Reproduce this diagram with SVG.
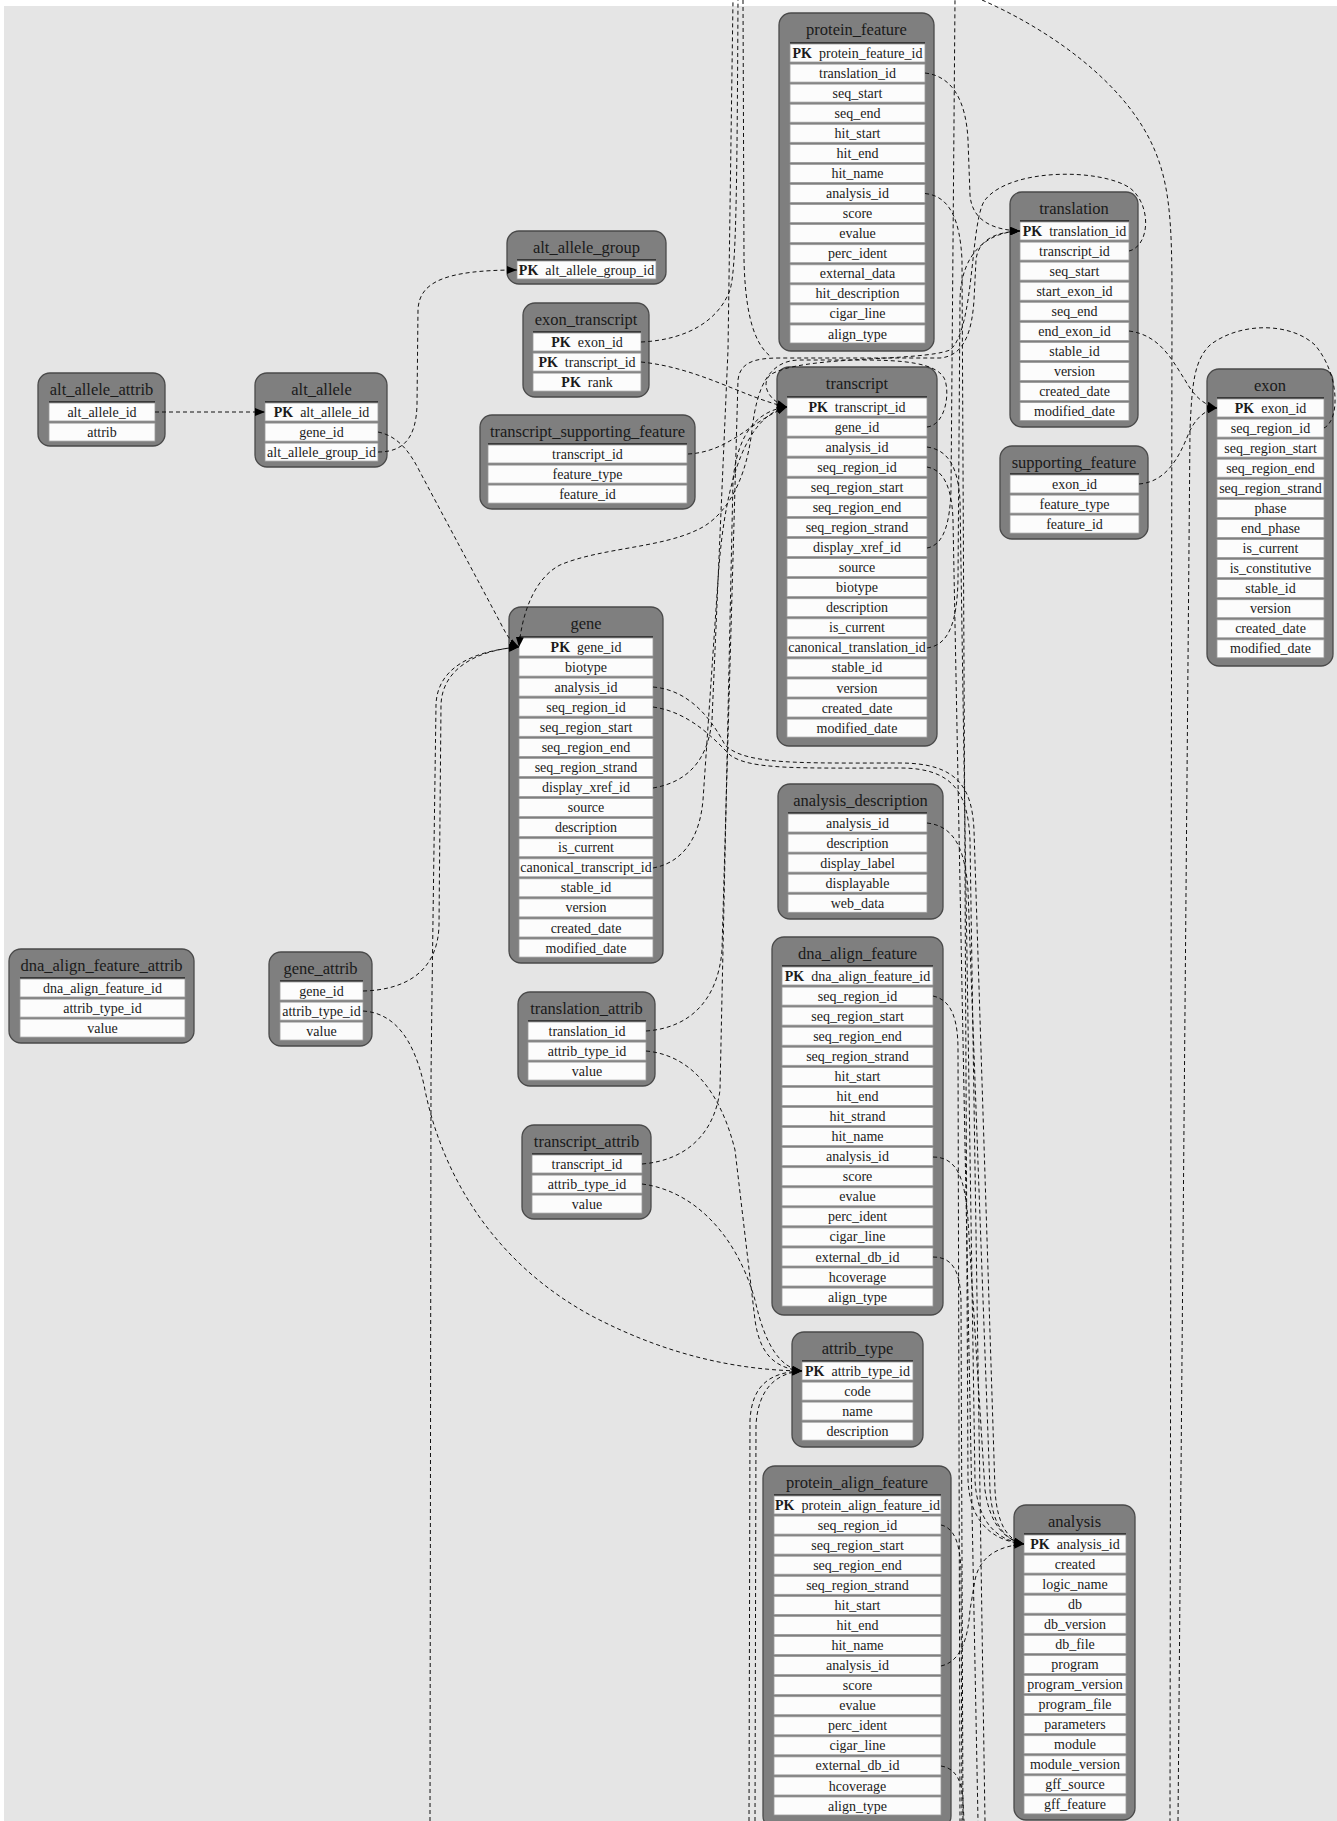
<svg xmlns="http://www.w3.org/2000/svg" width="1337" height="1821" viewBox="0 0 1337 1821">
<defs>
<style>
.n{fill:#7f7f7f;stroke:#4a4a4a;stroke-width:1.3}
.c{fill:#fcfcfc;stroke:#9a9a9a;stroke-width:0.8}
.h{stroke:#222;stroke-width:1.6}
.t{font-family:"Liberation Serif",serif;font-size:16.5px;fill:#1a1a1a;text-anchor:middle}
.r{font-family:"Liberation Serif",serif;font-size:14px;fill:#1a1a1a;text-anchor:middle}
.pk{font-weight:bold}
.e{fill:none;stroke:#111;stroke-width:1;stroke-dasharray:4 3}
.ea{fill:none;stroke:#111;stroke-width:1;stroke-dasharray:4 3;marker-end:url(#a)}
</style>
<marker id="a" viewBox="0 0 10 8" refX="10" refY="4" markerWidth="10" markerHeight="8" markerUnits="userSpaceOnUse" orient="auto"><path d="M0,0 L10,4 L0,8 z" fill="#000"/></marker>
</defs>
<rect x="0" y="0" width="1337" height="1821" fill="#ffffff"/>
<rect x="4" y="6" width="1333" height="1815" fill="#e5e5e5"/>

<g id="alt_allele_attrib">
<rect class="n" x="38" y="373" width="127" height="73" rx="12"/>
<text class="t" x="101.5" y="394.5">alt_allele_attrib</text>
<line class="h" x1="49" y1="402" x2="155" y2="402"/>
<rect class="c" x="49" y="403" width="106" height="18"/><text class="r" x="102" y="416.5">alt_allele_id</text>
<rect class="c" x="49" y="423.1" width="106" height="18"/><text class="r" x="102" y="436.6">attrib</text>
</g>

<g id="alt_allele">
<rect class="n" x="255" y="373" width="132" height="94" rx="12"/>
<text class="t" x="321.5" y="394.5">alt_allele</text>
<line class="h" x1="265" y1="402" x2="378" y2="402"/>
<rect class="c" x="265" y="403" width="113" height="18"/><text class="r" x="321.5" y="416.5"><tspan class="pk">PK</tspan><tspan dx="7">alt_allele_id</tspan></text>
<rect class="c" x="265" y="423.1" width="113" height="18"/><text class="r" x="321.5" y="436.6">gene_id</text>
<rect class="c" x="265" y="443.1" width="113" height="18"/><text class="r" x="321.5" y="456.6">alt_allele_group_id</text>
</g>

<g id="alt_allele_group">
<rect class="n" x="507" y="231" width="159" height="53" rx="12"/>
<text class="t" x="586.5" y="252.5">alt_allele_group</text>
<line class="h" x1="517" y1="260" x2="656" y2="260"/>
<rect class="c" x="517" y="261" width="139" height="18"/><text class="r" x="586.5" y="274.5"><tspan class="pk">PK</tspan><tspan dx="7">alt_allele_group_id</tspan></text>
</g>

<g id="exon_transcript">
<rect class="n" x="523" y="303" width="126" height="94" rx="12"/>
<text class="t" x="586" y="324.5">exon_transcript</text>
<line class="h" x1="533" y1="332" x2="641" y2="332"/>
<rect class="c" x="533" y="333" width="108" height="18"/><text class="r" x="587" y="346.5"><tspan class="pk">PK</tspan><tspan dx="7">exon_id</tspan></text>
<rect class="c" x="533" y="353.1" width="108" height="18"/><text class="r" x="587" y="366.6"><tspan class="pk">PK</tspan><tspan dx="7">transcript_id</tspan></text>
<rect class="c" x="533" y="373.1" width="108" height="18"/><text class="r" x="587" y="386.6"><tspan class="pk">PK</tspan><tspan dx="7">rank</tspan></text>
</g>

<g id="transcript_supporting_feature">
<rect class="n" x="480" y="415" width="215" height="94" rx="12"/>
<text class="t" x="587.5" y="436.5">transcript_supporting_feature</text>
<line class="h" x1="488" y1="444" x2="687" y2="444"/>
<rect class="c" x="488" y="445" width="199" height="18"/><text class="r" x="587.5" y="458.5">transcript_id</text>
<rect class="c" x="488" y="465.1" width="199" height="18"/><text class="r" x="587.5" y="478.6">feature_type</text>
<rect class="c" x="488" y="485.1" width="199" height="18"/><text class="r" x="587.5" y="498.6">feature_id</text>
</g>

<g id="protein_feature">
<rect class="n" x="779" y="13" width="155" height="338" rx="12"/>
<text class="t" x="856.5" y="34.5">protein_feature</text>
<line class="h" x1="790" y1="43" x2="925" y2="43"/>
<rect class="c" x="790" y="44" width="135" height="18"/><text class="r" x="857.5" y="57.5"><tspan class="pk">PK</tspan><tspan dx="7">protein_feature_id</tspan></text>
<rect class="c" x="790" y="64.1" width="135" height="18"/><text class="r" x="857.5" y="77.6">translation_id</text>
<rect class="c" x="790" y="84.1" width="135" height="18"/><text class="r" x="857.5" y="97.6">seq_start</text>
<rect class="c" x="790" y="104.2" width="135" height="18"/><text class="r" x="857.5" y="117.7">seq_end</text>
<rect class="c" x="790" y="124.3" width="135" height="18"/><text class="r" x="857.5" y="137.8">hit_start</text>
<rect class="c" x="790" y="144.4" width="135" height="18"/><text class="r" x="857.5" y="157.9">hit_end</text>
<rect class="c" x="790" y="164.4" width="135" height="18"/><text class="r" x="857.5" y="177.9">hit_name</text>
<rect class="c" x="790" y="184.5" width="135" height="18"/><text class="r" x="857.5" y="198">analysis_id</text>
<rect class="c" x="790" y="204.6" width="135" height="18"/><text class="r" x="857.5" y="218.1">score</text>
<rect class="c" x="790" y="224.6" width="135" height="18"/><text class="r" x="857.5" y="238.1">evalue</text>
<rect class="c" x="790" y="244.7" width="135" height="18"/><text class="r" x="857.5" y="258.2">perc_ident</text>
<rect class="c" x="790" y="264.8" width="135" height="18"/><text class="r" x="857.5" y="278.3">external_data</text>
<rect class="c" x="790" y="284.8" width="135" height="18"/><text class="r" x="857.5" y="298.3">hit_description</text>
<rect class="c" x="790" y="304.9" width="135" height="18"/><text class="r" x="857.5" y="318.4">cigar_line</text>
<rect class="c" x="790" y="325" width="135" height="18"/><text class="r" x="857.5" y="338.5">align_type</text>
</g>

<g id="translation">
<rect class="n" x="1010" y="192" width="128" height="235" rx="12"/>
<text class="t" x="1074" y="213.5">translation</text>
<line class="h" x1="1020" y1="221" x2="1129" y2="221"/>
<rect class="c" x="1020" y="222" width="109" height="18"/><text class="r" x="1074.5" y="235.5"><tspan class="pk">PK</tspan><tspan dx="7">translation_id</tspan></text>
<rect class="c" x="1020" y="242.1" width="109" height="18"/><text class="r" x="1074.5" y="255.6">transcript_id</text>
<rect class="c" x="1020" y="262.1" width="109" height="18"/><text class="r" x="1074.5" y="275.6">seq_start</text>
<rect class="c" x="1020" y="282.2" width="109" height="18"/><text class="r" x="1074.5" y="295.7">start_exon_id</text>
<rect class="c" x="1020" y="302.3" width="109" height="18"/><text class="r" x="1074.5" y="315.8">seq_end</text>
<rect class="c" x="1020" y="322.4" width="109" height="18"/><text class="r" x="1074.5" y="335.9">end_exon_id</text>
<rect class="c" x="1020" y="342.4" width="109" height="18"/><text class="r" x="1074.5" y="355.9">stable_id</text>
<rect class="c" x="1020" y="362.5" width="109" height="18"/><text class="r" x="1074.5" y="376">version</text>
<rect class="c" x="1020" y="382.6" width="109" height="18"/><text class="r" x="1074.5" y="396.1">created_date</text>
<rect class="c" x="1020" y="402.6" width="109" height="18"/><text class="r" x="1074.5" y="416.1">modified_date</text>
</g>

<g id="supporting_feature">
<rect class="n" x="1000" y="446" width="148" height="93" rx="12"/>
<text class="t" x="1074" y="467.5">supporting_feature</text>
<line class="h" x1="1010" y1="474" x2="1139" y2="474"/>
<rect class="c" x="1010" y="475" width="129" height="18"/><text class="r" x="1074.5" y="488.5">exon_id</text>
<rect class="c" x="1010" y="495.1" width="129" height="18"/><text class="r" x="1074.5" y="508.6">feature_type</text>
<rect class="c" x="1010" y="515.1" width="129" height="18"/><text class="r" x="1074.5" y="528.6">feature_id</text>
</g>

<g id="exon">
<rect class="n" x="1207" y="369" width="126" height="297" rx="12"/>
<text class="t" x="1270" y="390.5">exon</text>
<line class="h" x1="1217" y1="398" x2="1324" y2="398"/>
<rect class="c" x="1217" y="399" width="107" height="18"/><text class="r" x="1270.5" y="412.5"><tspan class="pk">PK</tspan><tspan dx="7">exon_id</tspan></text>
<rect class="c" x="1217" y="419.1" width="107" height="18"/><text class="r" x="1270.5" y="432.6">seq_region_id</text>
<rect class="c" x="1217" y="439.1" width="107" height="18"/><text class="r" x="1270.5" y="452.6">seq_region_start</text>
<rect class="c" x="1217" y="459.2" width="107" height="18"/><text class="r" x="1270.5" y="472.7">seq_region_end</text>
<rect class="c" x="1217" y="479.3" width="107" height="18"/><text class="r" x="1270.5" y="492.8">seq_region_strand</text>
<rect class="c" x="1217" y="499.4" width="107" height="18"/><text class="r" x="1270.5" y="512.9">phase</text>
<rect class="c" x="1217" y="519.4" width="107" height="18"/><text class="r" x="1270.5" y="532.9">end_phase</text>
<rect class="c" x="1217" y="539.5" width="107" height="18"/><text class="r" x="1270.5" y="553">is_current</text>
<rect class="c" x="1217" y="559.6" width="107" height="18"/><text class="r" x="1270.5" y="573.1">is_constitutive</text>
<rect class="c" x="1217" y="579.6" width="107" height="18"/><text class="r" x="1270.5" y="593.1">stable_id</text>
<rect class="c" x="1217" y="599.7" width="107" height="18"/><text class="r" x="1270.5" y="613.2">version</text>
<rect class="c" x="1217" y="619.8" width="107" height="18"/><text class="r" x="1270.5" y="633.3">created_date</text>
<rect class="c" x="1217" y="639.8" width="107" height="18"/><text class="r" x="1270.5" y="653.3">modified_date</text>
</g>

<g id="transcript">
<rect class="n" x="777" y="367" width="160" height="379" rx="12"/>
<text class="t" x="857" y="388.5">transcript</text>
<line class="h" x1="787" y1="397" x2="927" y2="397"/>
<rect class="c" x="787" y="398" width="140" height="18"/><text class="r" x="857" y="411.5"><tspan class="pk">PK</tspan><tspan dx="7">transcript_id</tspan></text>
<rect class="c" x="787" y="418.1" width="140" height="18"/><text class="r" x="857" y="431.6">gene_id</text>
<rect class="c" x="787" y="438.1" width="140" height="18"/><text class="r" x="857" y="451.6">analysis_id</text>
<rect class="c" x="787" y="458.2" width="140" height="18"/><text class="r" x="857" y="471.7">seq_region_id</text>
<rect class="c" x="787" y="478.3" width="140" height="18"/><text class="r" x="857" y="491.8">seq_region_start</text>
<rect class="c" x="787" y="498.4" width="140" height="18"/><text class="r" x="857" y="511.9">seq_region_end</text>
<rect class="c" x="787" y="518.4" width="140" height="18"/><text class="r" x="857" y="531.9">seq_region_strand</text>
<rect class="c" x="787" y="538.5" width="140" height="18"/><text class="r" x="857" y="552">display_xref_id</text>
<rect class="c" x="787" y="558.6" width="140" height="18"/><text class="r" x="857" y="572.1">source</text>
<rect class="c" x="787" y="578.6" width="140" height="18"/><text class="r" x="857" y="592.1">biotype</text>
<rect class="c" x="787" y="598.7" width="140" height="18"/><text class="r" x="857" y="612.2">description</text>
<rect class="c" x="787" y="618.8" width="140" height="18"/><text class="r" x="857" y="632.3">is_current</text>
<rect class="c" x="787" y="638.8" width="140" height="18"/><text class="r" x="857" y="652.3">canonical_translation_id</text>
<rect class="c" x="787" y="658.9" width="140" height="18"/><text class="r" x="857" y="672.4">stable_id</text>
<rect class="c" x="787" y="679" width="140" height="18"/><text class="r" x="857" y="692.5">version</text>
<rect class="c" x="787" y="699" width="140" height="18"/><text class="r" x="857" y="712.5">created_date</text>
<rect class="c" x="787" y="719.1" width="140" height="18"/><text class="r" x="857" y="732.6">modified_date</text>
</g>

<g id="gene">
<rect class="n" x="509" y="607" width="154" height="356" rx="12"/>
<text class="t" x="586" y="628.5">gene</text>
<line class="h" x1="519" y1="637" x2="653" y2="637"/>
<rect class="c" x="519" y="638" width="134" height="18"/><text class="r" x="586" y="651.5"><tspan class="pk">PK</tspan><tspan dx="7">gene_id</tspan></text>
<rect class="c" x="519" y="658.1" width="134" height="18"/><text class="r" x="586" y="671.6">biotype</text>
<rect class="c" x="519" y="678.1" width="134" height="18"/><text class="r" x="586" y="691.6">analysis_id</text>
<rect class="c" x="519" y="698.2" width="134" height="18"/><text class="r" x="586" y="711.7">seq_region_id</text>
<rect class="c" x="519" y="718.3" width="134" height="18"/><text class="r" x="586" y="731.8">seq_region_start</text>
<rect class="c" x="519" y="738.4" width="134" height="18"/><text class="r" x="586" y="751.9">seq_region_end</text>
<rect class="c" x="519" y="758.4" width="134" height="18"/><text class="r" x="586" y="771.9">seq_region_strand</text>
<rect class="c" x="519" y="778.5" width="134" height="18"/><text class="r" x="586" y="792">display_xref_id</text>
<rect class="c" x="519" y="798.6" width="134" height="18"/><text class="r" x="586" y="812.1">source</text>
<rect class="c" x="519" y="818.6" width="134" height="18"/><text class="r" x="586" y="832.1">description</text>
<rect class="c" x="519" y="838.7" width="134" height="18"/><text class="r" x="586" y="852.2">is_current</text>
<rect class="c" x="519" y="858.8" width="134" height="18"/><text class="r" x="586" y="872.3">canonical_transcript_id</text>
<rect class="c" x="519" y="878.8" width="134" height="18"/><text class="r" x="586" y="892.3">stable_id</text>
<rect class="c" x="519" y="898.9" width="134" height="18"/><text class="r" x="586" y="912.4">version</text>
<rect class="c" x="519" y="919" width="134" height="18"/><text class="r" x="586" y="932.5">created_date</text>
<rect class="c" x="519" y="939.1" width="134" height="18"/><text class="r" x="586" y="952.6">modified_date</text>
</g>

<g id="dna_align_feature_attrib">
<rect class="n" x="9" y="949" width="185" height="94" rx="12"/>
<text class="t" x="101.5" y="970.5">dna_align_feature_attrib</text>
<line class="h" x1="20" y1="978" x2="185" y2="978"/>
<rect class="c" x="20" y="979" width="165" height="18"/><text class="r" x="102.5" y="992.5">dna_align_feature_id</text>
<rect class="c" x="20" y="999.1" width="165" height="18"/><text class="r" x="102.5" y="1012.6">attrib_type_id</text>
<rect class="c" x="20" y="1019.1" width="165" height="18"/><text class="r" x="102.5" y="1032.6">value</text>
</g>

<g id="gene_attrib">
<rect class="n" x="269" y="952" width="103" height="94" rx="12"/>
<text class="t" x="320.5" y="973.5">gene_attrib</text>
<line class="h" x1="280" y1="981" x2="363" y2="981"/>
<rect class="c" x="280" y="982" width="83" height="18"/><text class="r" x="321.5" y="995.5">gene_id</text>
<rect class="c" x="280" y="1002.1" width="83" height="18"/><text class="r" x="321.5" y="1015.6">attrib_type_id</text>
<rect class="c" x="280" y="1022.1" width="83" height="18"/><text class="r" x="321.5" y="1035.6">value</text>
</g>

<g id="translation_attrib">
<rect class="n" x="518" y="992" width="137" height="94" rx="12"/>
<text class="t" x="586.5" y="1013.5">translation_attrib</text>
<line class="h" x1="528" y1="1021" x2="646" y2="1021"/>
<rect class="c" x="528" y="1022" width="118" height="18"/><text class="r" x="587" y="1035.5">translation_id</text>
<rect class="c" x="528" y="1042.1" width="118" height="18"/><text class="r" x="587" y="1055.6">attrib_type_id</text>
<rect class="c" x="528" y="1062.1" width="118" height="18"/><text class="r" x="587" y="1075.6">value</text>
</g>

<g id="transcript_attrib">
<rect class="n" x="522" y="1125" width="129" height="94" rx="12"/>
<text class="t" x="586.5" y="1146.5">transcript_attrib</text>
<line class="h" x1="532" y1="1154" x2="642" y2="1154"/>
<rect class="c" x="532" y="1155" width="110" height="18"/><text class="r" x="587" y="1168.5">transcript_id</text>
<rect class="c" x="532" y="1175.1" width="110" height="18"/><text class="r" x="587" y="1188.6">attrib_type_id</text>
<rect class="c" x="532" y="1195.1" width="110" height="18"/><text class="r" x="587" y="1208.6">value</text>
</g>

<g id="analysis_description">
<rect class="n" x="778" y="784" width="165" height="135" rx="12"/>
<text class="t" x="860.5" y="805.5">analysis_description</text>
<line class="h" x1="788" y1="813" x2="927" y2="813"/>
<rect class="c" x="788" y="814" width="139" height="18"/><text class="r" x="857.5" y="827.5">analysis_id</text>
<rect class="c" x="788" y="834.1" width="139" height="18"/><text class="r" x="857.5" y="847.6">description</text>
<rect class="c" x="788" y="854.1" width="139" height="18"/><text class="r" x="857.5" y="867.6">display_label</text>
<rect class="c" x="788" y="874.2" width="139" height="18"/><text class="r" x="857.5" y="887.7">displayable</text>
<rect class="c" x="788" y="894.3" width="139" height="18"/><text class="r" x="857.5" y="907.8">web_data</text>
</g>

<g id="dna_align_feature">
<rect class="n" x="772" y="937" width="171" height="378" rx="12"/>
<text class="t" x="857.5" y="958.5">dna_align_feature</text>
<line class="h" x1="782" y1="966" x2="933" y2="966"/>
<rect class="c" x="782" y="967" width="151" height="18"/><text class="r" x="857.5" y="980.5"><tspan class="pk">PK</tspan><tspan dx="7">dna_align_feature_id</tspan></text>
<rect class="c" x="782" y="987.1" width="151" height="18"/><text class="r" x="857.5" y="1000.6">seq_region_id</text>
<rect class="c" x="782" y="1007.1" width="151" height="18"/><text class="r" x="857.5" y="1020.6">seq_region_start</text>
<rect class="c" x="782" y="1027.2" width="151" height="18"/><text class="r" x="857.5" y="1040.7">seq_region_end</text>
<rect class="c" x="782" y="1047.3" width="151" height="18"/><text class="r" x="857.5" y="1060.8">seq_region_strand</text>
<rect class="c" x="782" y="1067.4" width="151" height="18"/><text class="r" x="857.5" y="1080.9">hit_start</text>
<rect class="c" x="782" y="1087.4" width="151" height="18"/><text class="r" x="857.5" y="1100.9">hit_end</text>
<rect class="c" x="782" y="1107.5" width="151" height="18"/><text class="r" x="857.5" y="1121">hit_strand</text>
<rect class="c" x="782" y="1127.6" width="151" height="18"/><text class="r" x="857.5" y="1141.1">hit_name</text>
<rect class="c" x="782" y="1147.6" width="151" height="18"/><text class="r" x="857.5" y="1161.1">analysis_id</text>
<rect class="c" x="782" y="1167.7" width="151" height="18"/><text class="r" x="857.5" y="1181.2">score</text>
<rect class="c" x="782" y="1187.8" width="151" height="18"/><text class="r" x="857.5" y="1201.3">evalue</text>
<rect class="c" x="782" y="1207.8" width="151" height="18"/><text class="r" x="857.5" y="1221.3">perc_ident</text>
<rect class="c" x="782" y="1227.9" width="151" height="18"/><text class="r" x="857.5" y="1241.4">cigar_line</text>
<rect class="c" x="782" y="1248" width="151" height="18"/><text class="r" x="857.5" y="1261.5">external_db_id</text>
<rect class="c" x="782" y="1268" width="151" height="18"/><text class="r" x="857.5" y="1281.5">hcoverage</text>
<rect class="c" x="782" y="1288.1" width="151" height="18"/><text class="r" x="857.5" y="1301.6">align_type</text>
</g>

<g id="attrib_type">
<rect class="n" x="792" y="1332" width="131" height="115" rx="12"/>
<text class="t" x="857.5" y="1353.5">attrib_type</text>
<line class="h" x1="802" y1="1361" x2="913" y2="1361"/>
<rect class="c" x="802" y="1362" width="111" height="18"/><text class="r" x="857.5" y="1375.5"><tspan class="pk">PK</tspan><tspan dx="7">attrib_type_id</tspan></text>
<rect class="c" x="802" y="1382.1" width="111" height="18"/><text class="r" x="857.5" y="1395.6">code</text>
<rect class="c" x="802" y="1402.1" width="111" height="18"/><text class="r" x="857.5" y="1415.6">name</text>
<rect class="c" x="802" y="1422.2" width="111" height="18"/><text class="r" x="857.5" y="1435.7">description</text>
</g>

<g id="protein_align_feature">
<rect class="n" x="763" y="1466" width="188" height="362" rx="12"/>
<text class="t" x="857" y="1487.5">protein_align_feature</text>
<line class="h" x1="774" y1="1495" x2="941" y2="1495"/>
<rect class="c" x="774" y="1496" width="167" height="18"/><text class="r" x="857.5" y="1509.5"><tspan class="pk">PK</tspan><tspan dx="7">protein_align_feature_id</tspan></text>
<rect class="c" x="774" y="1516.1" width="167" height="18"/><text class="r" x="857.5" y="1529.6">seq_region_id</text>
<rect class="c" x="774" y="1536.1" width="167" height="18"/><text class="r" x="857.5" y="1549.6">seq_region_start</text>
<rect class="c" x="774" y="1556.2" width="167" height="18"/><text class="r" x="857.5" y="1569.7">seq_region_end</text>
<rect class="c" x="774" y="1576.3" width="167" height="18"/><text class="r" x="857.5" y="1589.8">seq_region_strand</text>
<rect class="c" x="774" y="1596.4" width="167" height="18"/><text class="r" x="857.5" y="1609.9">hit_start</text>
<rect class="c" x="774" y="1616.4" width="167" height="18"/><text class="r" x="857.5" y="1629.9">hit_end</text>
<rect class="c" x="774" y="1636.5" width="167" height="18"/><text class="r" x="857.5" y="1650">hit_name</text>
<rect class="c" x="774" y="1656.6" width="167" height="18"/><text class="r" x="857.5" y="1670.1">analysis_id</text>
<rect class="c" x="774" y="1676.6" width="167" height="18"/><text class="r" x="857.5" y="1690.1">score</text>
<rect class="c" x="774" y="1696.7" width="167" height="18"/><text class="r" x="857.5" y="1710.2">evalue</text>
<rect class="c" x="774" y="1716.8" width="167" height="18"/><text class="r" x="857.5" y="1730.3">perc_ident</text>
<rect class="c" x="774" y="1736.8" width="167" height="18"/><text class="r" x="857.5" y="1750.3">cigar_line</text>
<rect class="c" x="774" y="1756.9" width="167" height="18"/><text class="r" x="857.5" y="1770.4">external_db_id</text>
<rect class="c" x="774" y="1777" width="167" height="18"/><text class="r" x="857.5" y="1790.5">hcoverage</text>
<rect class="c" x="774" y="1797" width="167" height="18"/><text class="r" x="857.5" y="1810.5">align_type</text>
</g>

<g id="analysis">
<rect class="n" x="1014" y="1505" width="121" height="315" rx="12"/>
<text class="t" x="1074.5" y="1526.5">analysis</text>
<line class="h" x1="1024" y1="1534" x2="1126" y2="1534"/>
<rect class="c" x="1024" y="1535" width="102" height="18"/><text class="r" x="1075" y="1548.5"><tspan class="pk">PK</tspan><tspan dx="7">analysis_id</tspan></text>
<rect class="c" x="1024" y="1555.1" width="102" height="18"/><text class="r" x="1075" y="1568.6">created</text>
<rect class="c" x="1024" y="1575.1" width="102" height="18"/><text class="r" x="1075" y="1588.6">logic_name</text>
<rect class="c" x="1024" y="1595.2" width="102" height="18"/><text class="r" x="1075" y="1608.7">db</text>
<rect class="c" x="1024" y="1615.3" width="102" height="18"/><text class="r" x="1075" y="1628.8">db_version</text>
<rect class="c" x="1024" y="1635.4" width="102" height="18"/><text class="r" x="1075" y="1648.9">db_file</text>
<rect class="c" x="1024" y="1655.4" width="102" height="18"/><text class="r" x="1075" y="1668.9">program</text>
<rect class="c" x="1024" y="1675.5" width="102" height="18"/><text class="r" x="1075" y="1689">program_version</text>
<rect class="c" x="1024" y="1695.6" width="102" height="18"/><text class="r" x="1075" y="1709.1">program_file</text>
<rect class="c" x="1024" y="1715.6" width="102" height="18"/><text class="r" x="1075" y="1729.1">parameters</text>
<rect class="c" x="1024" y="1735.7" width="102" height="18"/><text class="r" x="1075" y="1749.2">module</text>
<rect class="c" x="1024" y="1755.8" width="102" height="18"/><text class="r" x="1075" y="1769.3">module_version</text>
<rect class="c" x="1024" y="1775.8" width="102" height="18"/><text class="r" x="1075" y="1789.3">gff_source</text>
<rect class="c" x="1024" y="1795.9" width="102" height="18"/><text class="r" x="1075" y="1809.4">gff_feature</text>
</g>

<g id="connectors">
<path class="ea" d="M155,412 L265,412"/>
<path class="ea" d="M378,452 C402,452 416,440 417,405 L418,310 C419,282 445,270 517,270"/>
<path class="ea" d="M378,432 C398,436 410,452 420,472 L500,622 C506,634 511,643 519,647"/>
<path class="ea" d="M363,991 C405,990 438,972 439,925 L441,705 C442,668 478,650 519,647"/>
<path class="ea" d="M430,1821 L431,1080 C432,980 435,780 436,705 C437,668 472,651 519,647"/>
<path class="ea" d="M363,1011 C395,1013 414,1040 424,1085 C440,1170 490,1260 590,1315 C660,1352 730,1370 802,1371"/>
<path class="ea" d="M641,362 C700,368 745,398 787,407"/>
<path class="ea" d="M688,454 C730,452 752,420 787,407"/>
<path class="e" d="M641,342 C685,340 718,322 730,290 C736,270 737,200 738,0"/>
<path class="e" d="M743,0 L744,260 C745,300 750,340 770,356"/>
<path class="ea" d="M925,73 C952,76 966,100 968,140 L970,195 C972,222 995,230 1020,231"/>
<path class="ea" d="M925,193.5 C950,196 960,220 962,260 L968,1480 C970,1525 995,1541 1024,1544"/>
<path class="ea" d="M1129,251 C1150,246 1152,205 1130,188 C1100,168 1010,168 985,200 C970,220 975,330 950,350 C920,362 800,355 770,375 C760,385 770,402 787,407"/>
<path class="ea" d="M927,648 C950,645 957,620 958,580 L960,300 C961,250 990,232 1020,231"/>
<path class="ea" d="M927,427 C945,425 950,395 945,380 C938,362 900,360 860,360 L800,360 C770,360 757,385 752,430 C745,490 720,520 697,530 C660,548 600,548 560,565 C535,578 522,612 519,647"/>
<path class="ea" d="M927,447 C950,450 958,470 960,500 L975,1480 C977,1520 995,1540 1024,1544"/>
<path class="e" d="M927,467 C945,470 952,490 953,520 L978,1821"/>
<path class="e" d="M927,548 C945,545 950,520 951,490 L955,0"/>
<path class="ea" d="M653,687 C690,690 712,720 725,745 C745,765 800,763 900,763 C960,763 972,790 974,830 L995,1490 C997,1525 1008,1540 1024,1544"/>
<path class="e" d="M653,707 C690,712 715,740 730,755 C750,770 800,768 900,768 C955,768 968,795 970,840 L985,1821"/>
<path class="e" d="M653,788 C688,782 708,760 712,720 L728,350 L733,0"/>
<path class="ea" d="M653,868 C685,862 700,835 703,800 L718,580 C725,470 750,415 787,407"/>
<path class="ea" d="M646,1031 C690,1028 718,1000 722,950 L738,380 C740,362 755,358 780,358 L940,358 C965,356 972,330 974,300 L976,260 C978,240 995,232 1020,231"/>
<path class="ea" d="M646,1051 C690,1055 720,1090 735,1150 L755,1320 C760,1355 775,1368 802,1371"/>
<path class="ea" d="M642,1164 C690,1160 715,1130 720,1090 L733,480 C738,430 760,410 787,407"/>
<path class="ea" d="M642,1184 C690,1190 735,1230 755,1300 C765,1345 780,1368 802,1371"/>
<path class="ea" d="M927,823 C955,826 965,850 968,890 L990,1490 C992,1525 1005,1540 1024,1544"/>
<path class="e" d="M933,996 C952,1000 958,1020 958,1050 L960,1821"/>
<path class="ea" d="M933,1157 C958,1157 965,1180 968,1220 L985,1490 C990,1525 1005,1540 1024,1544"/>
<path class="e" d="M933,1257 C952,1257 960,1270 961,1300 L963,1821"/>
<path class="e" d="M941,1525 C955,1528 960,1545 961,1570 L962,1821"/>
<path class="ea" d="M941,1666 C960,1662 968,1640 970,1610 L975,1580 C980,1555 1000,1546 1024,1544"/>
<path class="e" d="M941,1766 C955,1768 962,1780 963,1800 L964,1821"/>
<path class="e" d="M1324,428 C1340,420 1340,375 1315,345 C1290,322 1240,322 1210,345 C1195,360 1192,380 1190,430 L1178,1821"/>
<path class="e" d="M982,0 C1050,30 1120,80 1150,140 C1170,180 1172,220 1172,300 L1170,1821"/>
<path class="ea" d="M1129,331 C1160,335 1172,360 1185,380 C1195,398 1205,405 1217,408"/>
<path class="ea" d="M1139,484 C1165,482 1178,460 1188,435 C1195,418 1205,410 1217,408"/>
<path class="ea" d="M749,1821 L750,1420 C752,1385 770,1372 802,1371"/>
<path class="ea" d="M755,1821 L756,1425 C758,1390 775,1373 802,1371"/>
</g>
</svg>
